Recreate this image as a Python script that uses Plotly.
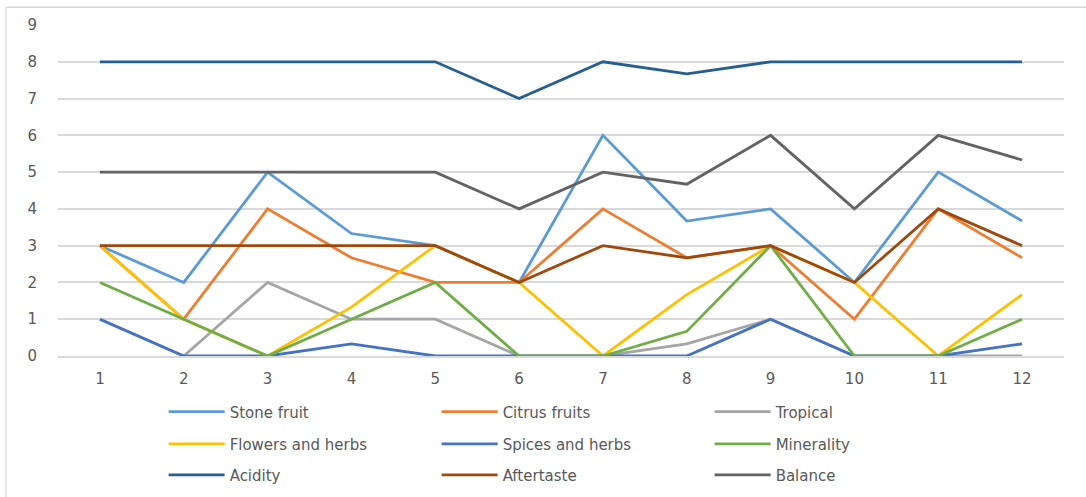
import plotly.graph_objects as go

samples = list(range(1, 12 + 1))

stone_fruit = [3, 2, 5, 3.33, 3, 2, 6, 3.67, 4, 2, 5, 3.67]
citrus_fruits = [3, 1, 4, 2.67, 2, 2, 4, 2.67, 3, 1, 4, 2.67]
tropical = [1, 0, 2, 1, 1, 0, 0, 0.33, 1, 0, 0, 0]
flowers_herbs = [3, 1, 0, 1.33, 3, 2, 0, 1.67, 3, 2, 0, 1.67]
spices_herbs = [1, 0, 0, 0.33, 0, 0, 0, 0, 1, 0, 0, 0.33]
minerality = [2, 1, 0, 1, 2, 0, 0, 0.67, 3, 0, 0, 1]
acidity = [8, 8, 8, 8, 8, 7, 8, 7.67, 8, 8, 8, 8]
aftertaste = [3, 3, 3, 3, 3, 2, 3, 2.67, 3, 2, 4, 3]
balance = [5, 5, 5, 5, 5, 4, 5, 4.67, 6, 4, 6, 5.33]

series = [
    ("Stone fruit", stone_fruit, "#5B9BD5", "legend"),
    ("Citrus fruits", citrus_fruits, "#ED7D31", "legend"),
    ("Tropical", tropical, "#A5A5A5", "legend"),
    ("Flowers and herbs", flowers_herbs, "#FFC000", "legend2"),
    ("Spices and herbs", spices_herbs, "#4472C4", "legend2"),
    ("Minerality", minerality, "#70AD47", "legend2"),
    ("Acidity", acidity, "#255E91", "legend3"),
    ("Aftertaste", aftertaste, "#9E480E", "legend3"),
    ("Balance", balance, "#636363", "legend3"),
]

fig = go.Figure()
for name, values, color, leg in series:
    fig.add_trace(go.Scatter(
        x=samples, y=values, name=name, mode="lines",
        line=dict(color=color, width=2.8),
        legend=leg,
    ))

text_color = "#595959"
font_family = "DejaVu Sans, Open Sans, sans-serif"
font = dict(family=font_family, size=15, color=text_color)

def legend_row(ypos):
    return dict(
        orientation="h", x=0.105, xanchor="left", y=ypos, yanchor="middle",
        entrywidth=202, entrywidthmode="pixels", itemwidth=56,
        font=dict(family=font_family, size=15, color=text_color),
        bgcolor="rgba(0,0,0,0)", tracegroupgap=0,
    )

fig.update_layout(
    width=1086, height=497,
    margin=dict(l=58, r=22, t=25, b=141, autoexpand=False),
    paper_bgcolor="white", plot_bgcolor="white",
    font=font,
    showlegend=True,
    legend=legend_row(-0.169),
    legend2=legend_row(-0.266),
    legend3=legend_row(-0.36),
    xaxis=dict(
        range=[0.5, 12.5], tickvals=samples, ticktext=[str(s) for s in samples],
        showgrid=False, zeroline=False, showline=True, linecolor="#D9D9D9", linewidth=1.5,
        ticks="", ticklabelstandoff=8, tickfont=dict(family=font_family, size=15, color=text_color),
        fixedrange=True,
    ),
    yaxis=dict(
        range=[0, 9], tickvals=list(range(0, 10)),
        showgrid=True, gridcolor="#D9D9D9", gridwidth=1.5, zeroline=False, showline=False,
        ticks="", ticklabelstandoff=20, tickfont=dict(family=font_family, size=15, color=text_color),
        fixedrange=True,
    ),
    shapes=[
        dict(type="line", xref="paper", yref="paper", x0=-0.0517, x1=1.03, y0=1.054, y1=1.054,
             line=dict(color="#D9D9D9", width=1.5)),
        dict(type="line", xref="paper", yref="paper", x0=-0.0517, x1=-0.0517, y0=1.054, y1=-0.45,
             line=dict(color="#D9D9D9", width=1.5)),
    ],
)

fig.write_html("out.html")
